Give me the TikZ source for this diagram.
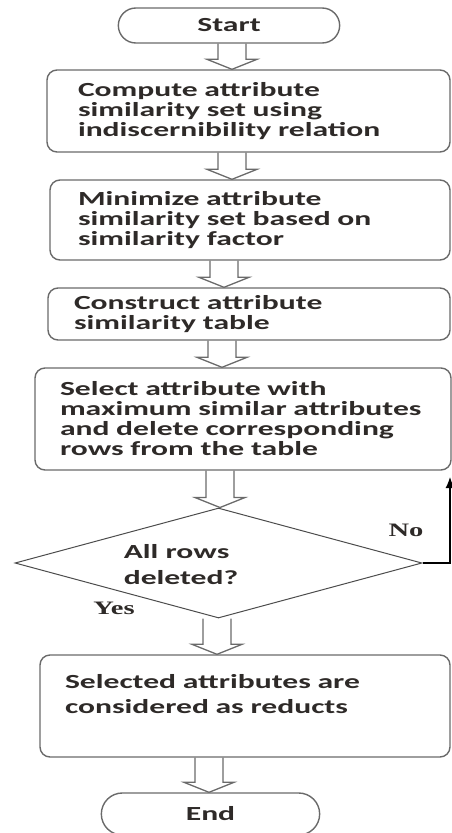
\documentclass[tikz,border=0pt]{standalone}
\usepackage{fontspec}
\usepackage{tikz}
\usetikzlibrary{arrows.meta, positioning, shapes.geometric, calc, shapes.misc}

\newfontfamily\flowfont{Carlito}[FakeStretch=1.58]
\newfontfamily\answerfont{Liberation Serif}[FakeStretch=1.5]
\newcommand{\flowsize}[1]{\flowfont\bfseries\fontsize{20}{#1}\selectfont}
\newcommand{\answersize}{\answerfont\bfseries\fontsize{19}{19}\selectfont}

\definecolor{linegray}{HTML}{6A6A6A}
\definecolor{textdark}{HTML}{2E2A28}

\begin{document}
\begin{tikzpicture}[x=1pt, y=-1pt,
    flowbox/.style={draw=linegray, line width=1.4pt, rounded corners=10pt, align=left, inner ysep=2pt, text=textdark, font=\flowsize{20}},
    terminal/.style={draw=linegray, line width=1.4pt, rounded rectangle, text=textdark, font=\flowsize{20}},
    decision/.style={draw=black!70, line width=1pt, diamond, inner sep=0pt},
    answer/.style={text=textdark, font=\answersize},
    hollowarrow/.style={draw=linegray, line width=1.3pt, to path={
        let \p1=(\tikztostart), \p2=(\tikztotarget) in
        (#1pt-14pt,\y1) -- (#1pt-14pt,\y2+10pt) -- (#1pt-25pt,\y2+10pt) -- (#1pt,\y2)
        -- (#1pt+25pt,\y2+10pt) -- (#1pt+14pt,\y2+10pt) -- (#1pt+14pt,\y1)}}]

    \useasboundingbox (0,0) rectangle (451,833);

    % steps of the reduct search
    \node[terminal, minimum width=228pt, minimum height=35pt] (start) at (229,25.5) {Start};
    \node[flowbox, minimum width=403pt, minimum height=82pt, text width=341pt, inner xsep=31pt] (simset) at (248.5,111)
        {Compute attribute\\similarity set using\\indiscernibility relation};
    \node[flowbox, minimum width=400pt, minimum height=80pt, text width=344pt, inner xsep=28pt] (minset) at (250,220)
        {Minimize attribute\\similarity set based on\\similarity factor};
    \node[flowbox, minimum width=402pt, minimum height=52pt, text width=350pt, inner xsep=26pt] (table) at (249,314)
        {Construct attribute\\similarity table};
    \node[flowbox, minimum width=416pt, minimum height=102pt, text width=366pt, inner xsep=25pt] (select) at (243,419)
        {Select attribute with\\maximum similar attributes\\and delete corresponding\\rows from the table};
    \node[decision, minimum width=407pt, minimum height=110pt] (check) at (218.5,563) {};
    \node[align=left, text=textdark, font=\flowsize{26}] (checktext) at (181,565) {All rows\\deleted?};
    \node[flowbox, minimum width=410pt, minimum height=102pt, text width=360pt, inner xsep=25pt, font=\flowsize{25}] (reducts) at (245,706)
        {Selected attributes are\\considered as reducts\\\mbox{}};
    \node[terminal, minimum width=225pt, minimum height=42pt] (end) at (210.5,814) {End};

    % block arrows between the steps
    \draw[hollowarrow=232] (start.south) to (simset.north);
    \draw[hollowarrow=232] (simset.south) to (minset.north);
    \draw[hollowarrow=224] (minset.south) to (table.north);
    \draw[hollowarrow=222] (table.south) to (select.north);
    \draw[hollowarrow=220] (select.south) to (check.north);
    \draw[hollowarrow=217] (check.south) to (reducts.north);
    \draw[hollowarrow=209] (reducts.south) to (end.north);

    % loop back when rows remain
    \coordinate (back) at (450,477);
    \draw[line width=1.2pt, -{Latex[length=11pt, width=9pt]}] (check.east) -| (back);
    \node[answer] (no) at (406,530) {No};
    \node[answer] (yes) at (114,608) {Yes};
\end{tikzpicture}
\end{document}
